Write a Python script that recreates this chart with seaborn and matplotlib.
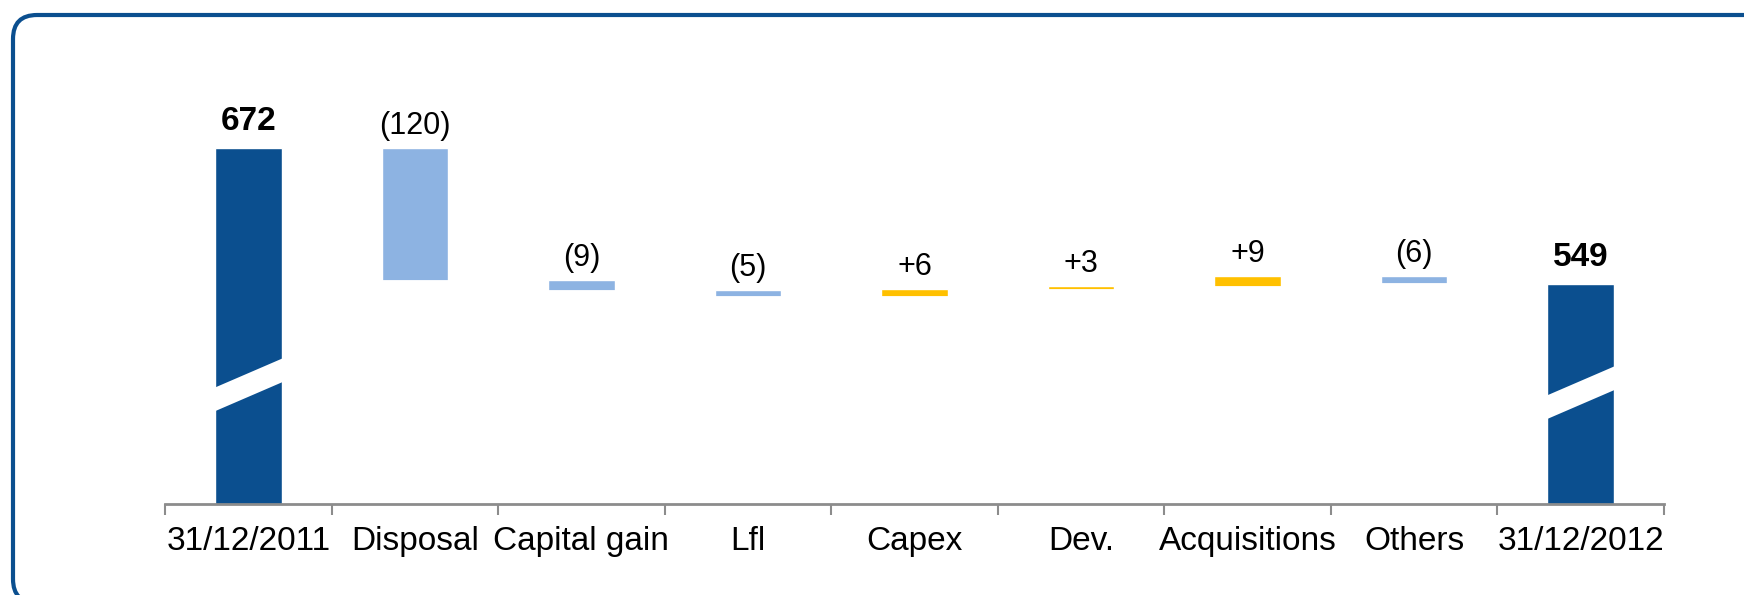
import matplotlib
matplotlib.use("Agg")
import matplotlib.pyplot as plt
from matplotlib.patches import FancyBboxPatch, Polygon
from matplotlib.transforms import IdentityTransform
import numpy as np
import pandas as pd
import seaborn as sns

# data
categories = ["31/12/2011", "Disposal", "Capital gain", "Lfl", "Capex", "Dev.",
              "Acquisitions", "Others", "31/12/2012"]
start_total = 672
changes = [-120, -9, -5, 6, 3, 9, -6]
end_total = 549
value_labels = ["672", "(120)", "(9)", "(5)", "+6", "+3", "+9", "(6)", "549"]

dark_blue = "#0B4F8F"
light_blue = "#8DB3E2"
gold = "#FFC000"
grey = "#8C8C8C"

# waterfall levels
levels = start_total + np.cumsum([0] + changes)
before, after = levels[:-1], levels[1:]
tops = [start_total] + list(np.maximum(before, after)) + [end_total]
bases = [0] + list(np.minimum(before, after)) + [0]
colors = [dark_blue] + [gold if c > 0 else light_blue for c in changes] + [dark_blue]
df = pd.DataFrame({"category": categories, "top": tops, "base": bases})

sns.set_theme(style="white")
plt.rcParams["font.family"] = ["Liberation Sans", "DejaVu Sans"]

W, H = 1744, 595
fig = plt.figure(figsize=(W / 100, H / 100), dpi=100)
ax = fig.add_axes([165 / W, 1 - 504 / H, (1664 - 165) / W, (504 - 60) / H])

# coloured bars up to the top of each step, then white bars hide the part below
sns.barplot(data=df, x="category", y="top", hue="category",
            palette=dict(zip(categories, colors)), width=0.4, saturation=1,
            errorbar=None, legend=False, ax=ax)
sns.barplot(data=df, x="category", y="base", color="white", width=0.4,
            saturation=1, errorbar=None, edgecolor="white", linewidth=0.6, ax=ax)

ax.set_xlim(-0.5, len(categories) - 0.5)
ax.set_ylim(349, 752)

# broken-axis cut on the two total bars
for i, yc in [(0, 457), (len(categories) - 1, 450)]:
    hw, rise, t = 0.23, 30, 21.5
    ax.add_patch(Polygon([(i - hw, yc - rise / 2 - t / 2), (i + hw, yc + rise / 2 - t / 2),
                          (i + hw, yc + rise / 2 + t / 2), (i - hw, yc - rise / 2 + t / 2)],
                         closed=True, facecolor="white", edgecolor="none", zorder=5))

# value labels
for i, (lab, top) in enumerate(zip(value_labels, tops)):
    bold = i in (0, len(categories) - 1)
    ax.annotate(lab, (i, top), xytext=(0, 19 if bold else 16), textcoords="offset points",
                ha="center", va="center", fontsize=24 if bold else 22,
                fontweight="bold" if bold else "normal", color="black")

# axes styling
ax.set_xlabel("")
ax.set_ylabel("")
ax.set_yticks([])
ax.set_xticks(np.arange(-0.5, len(categories), 1), minor=True)
ax.tick_params(axis="x", which="major", length=0, pad=16, labelsize=24, labelcolor="black")
ax.tick_params(axis="x", which="minor", bottom=True, length=8, width=1.5, color=grey, direction="out")
for s in ["left", "right", "top"]:
    ax.spines[s].set_visible(False)
ax.spines["bottom"].set_color(grey)
ax.spines["bottom"].set_linewidth(2)

# rounded frame, cut off at the bottom and right
frame = FancyBboxPatch((13, -8), 1800 - 13, H - 15 + 8,
                       boxstyle="round,pad=0,rounding_size=24",
                       transform=IdentityTransform(), fill=False,
                       edgecolor=dark_blue, linewidth=3, figure=fig)
fig.patches.append(frame)

fig.savefig("out.png", dpi=100)
